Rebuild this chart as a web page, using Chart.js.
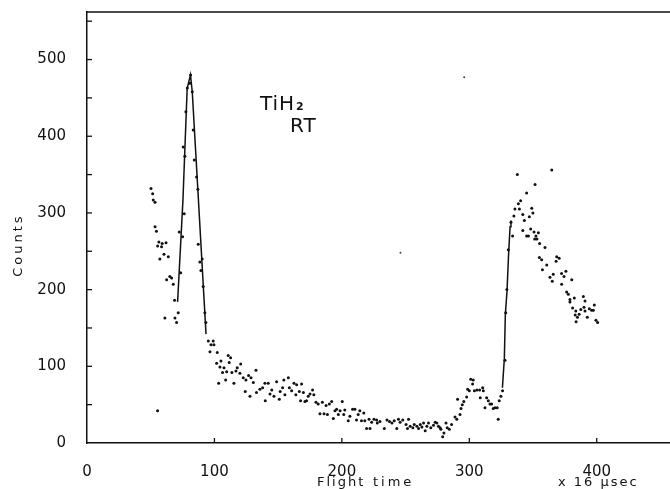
<!DOCTYPE html>
<html>
<head>
<meta charset="utf-8">
<script src="https://cdn.jsdelivr.net/npm/chart.js@4.4.0/dist/chart.umd.min.js"></script>
<style>
  html, body { margin: 0; padding: 0; background: #fff; }
  #wrap { width: 670px; height: 489px; }
</style>
</head>
<body>
<div id="wrap"><canvas id="chart" width="670" height="489"></canvas></div>
<script>
// measured counts per channel (flight time in units of 16 usec)
var countsX = [
  50.2, 51.5, 52.0, 53.4, 53.4, 54.5, 55.4, 55.4, 56.4, 57.2, 58.5, 59.0, 60.4, 61.1, 62.0, 62.5,
  63.8, 65.0, 66.4, 67.7, 68.7, 69.0, 70.3, 71.6,
  72.4, 73.5, 75.0, 76.3, 75.5, 76.8, 77.6, 78.7, 80.8, 81.3, 82.6, 83.4, 84.2, 86.0, 87.0,
  87.3, 88.6, 89.4, 90.4, 91.2, 92.5, 93.3,
  95.2, 96.5, 97.3, 99.0, 99.6, 101.7, 102.2, 103.3, 104.3, 105.1, 106.4, 107.5, 108.8, 109.6,
  110.8, 111.6, 112.7, 113.7, 115.3, 116.9, 117.9, 120.0, 120.6, 122.6, 124.2, 124.7, 126.8,
  127.9, 128.7, 130.5, 132.6, 133.0, 135.7, 137.8, 139.6, 139.9, 142.2, 143.6,
  145.0, 146.7, 148.8, 150.9, 151.6, 153.5, 154.5, 155.3, 158.0, 158.8, 160.6, 162.4, 163.9,
  164.5, 166.6, 167.6, 168.4, 169.8, 171.0, 172.3, 173.6, 175.0, 177.0, 178.0, 179.7, 181.4,
  182.8, 184.7, 186.0, 187.6, 188.7, 190.2, 192.0, 193.3, 194.6, 195.9, 197.2, 198.6, 200.3,
  201.5, 202.3, 205.0, 206.3, 208.4, 210.2, 211.5, 212.8, 214.1, 215.4, 217.2, 218.0, 219.4,
  221.3, 222.1, 223.4, 225.2, 227.3, 227.8, 229.9, 233.3, 235.4, 237.4, 239.3, 241.1, 243.1,
  244.4, 245.7, 247.8, 250.4, 251.5, 252.3, 253.6, 255.7, 256.8, 258.9, 260.2, 261.5, 262.8,
  264.1, 265.4, 266.7, 268.0, 269.8, 271.9, 273.2, 274.5, 275.8, 277.1, 277.7, 279.1, 280.1,
  281.7, 282.7, 284.3, 286.1, 288.8, 290.2, 290.8, 292.7, 293.5, 294.5, 295.7, 297.9, 298.7,
  300.0, 301.1, 302.6, 303.1, 304.0, 306.0, 308.1, 308.6, 310.5, 311.0, 312.3, 313.6, 314.9,
  316.2, 317.5, 318.8, 320.1, 321.9, 322.7, 323.5, 324.8, 326.1,
  328.0, 328.6, 329.5, 330.6, 332.7,
  334.0, 335.0, 335.8, 337.7, 338.5, 339.3, 340.3, 342.0, 342.0, 343.2, 345.0, 345.0, 346.4,
  347.1, 348.2, 349.0, 349.9, 350.8, 351.3, 351.6, 352.3, 353.1, 354.2, 355.0, 355.2, 356.8,
  357.4, 359.4, 360.8, 363.3, 364.7, 365.1, 365.9, 368.1, 368.6, 370.5, 372.4, 372.5, 374.3,
  375.8, 376.4, 377.7, 379.0, 379.0, 380.4, 381.1, 382.4, 383.1, 383.6, 383.8, 384.9, 386.2,
  387.5, 389.5, 390.0, 390.8, 390.8, 392.6, 394.2, 396.0, 397.3, 398.1, 399.4, 400.7
];
var countsY = [
  332, 325, 317, 314, 282, 276, 42, 257, 262, 240, 256, 260, 246, 163, 261, 213,
  243, 217, 215, 207, 186, 163, 157, 170,
  275, 222, 269, 299, 386, 374, 432, 463, 469, 480, 458, 408, 369, 347, 331,
  259, 236, 225, 240, 204, 170, 157,
  133, 119, 128, 133, 128, 104, 118, 78, 99, 107, 92, 98, 82, 93,
  114, 105, 111, 92, 78, 94, 98, 91, 103, 85, 67, 82, 88,
  61, 85, 79, 95, 66, 70, 72, 78, 55, 78, 64,
  69, 61, 80, 57, 67, 72, 82, 63, 85, 72, 68, 78, 63,
  76, 67, 55, 77, 66, 54, 55, 61, 64, 69, 63, 53, 51,
  38, 53, 38, 49, 37, 51, 54, 32, 42, 44, 37, 42, 54,
  37, 43, 29, 35, 44, 44, 30, 37, 42, 29, 39, 29, 19,
  31, 19, 27, 31, 30, 26, 28, 19, 30, 28, 26, 29, 19,
  31, 27, 30, 24, 19, 31, 22, 20, 24, 22, 19, 24, 21,
  26, 16, 22, 26, 20, 23, 27, 26, 22, 20, 18, 8, 13,
  26, 20, 18, 24, 34, 31, 57, 37, 45, 50, 54, 60, 70,
  68, 83, 77, 82, 68, 69, 69, 59, 72, 68, 46, 59, 55,
  51, 51, 45, 46, 46, 31, 55, 61, 68,
  108, 170, 200, 252, 288,
  270, 296, 305, 350, 312, 305, 316, 298, 277, 290, 326, 270, 270,
  295, 279, 306, 300, 275, 266, 337, 270, 266, 274, 242, 260, 239,
  226, 255, 232, 216, 356, 211, 220, 237, 243, 241, 221, 207, 217,
  224, 197, 194, 187, 184, 213, 176, 189, 167, 172, 158, 164, 168,
  174, 191, 177, 185, 172, 164, 175, 173, 173, 180, 160, 157
];

// hand-drawn curves through the two peaks
var fitLeftX = [71.1, 75.3, 78.6, 81.2, 82.6, 87.0, 93.4];
var fitLeftY = [184, 317, 462, 480, 458, 330, 142];
var fitRightX = [326.0, 327.5, 328.3, 329.6, 330.8, 332.0, 332.7];
var fitRightY = [72, 110, 168, 198, 245, 282, 290];

// specks on the original print
var speckX = [296, 246];
var speckY = [477, 248];

var xTickLabels = ["0", "100", "200", "300", "400"];
var yTickLabels = ["0", "100", "200", "300", "400", "500"];
var yMarkValues = [50, 100, 150, 200, 250, 300, 350, 400, 450, 500, 550];
var xMarkValues = [100, 200, 300, 400];

function pairs(xs, ys) {
  return xs.map(function (x, i) { return { x: x, y: ys[i] }; });
}

var ink = "#111";
var font = "'DejaVu Sans', sans-serif";

var paperText = {
  id: "paperText",
  afterDraw: function (chart) {
    var ctx = chart.ctx;
    var xs = chart.scales.x;
    var ys = chart.scales.y;
    var area = chart.chartArea;
    ctx.save();
    ctx.strokeStyle = ink;
    ctx.fillStyle = ink;

    // top frame line
    ctx.lineWidth = 1.5;
    ctx.beginPath();
    ctx.moveTo(area.left, area.top);
    ctx.lineTo(chart.width, area.top);
    ctx.stroke();

    // tick marks point into the plot
    ctx.lineWidth = 1.3;
    yMarkValues.forEach(function (v) {
      var py = ys.getPixelForValue(v);
      ctx.beginPath();
      ctx.moveTo(xs.left, py);
      ctx.lineTo(xs.left + 5, py);
      ctx.stroke();
    });
    xMarkValues.forEach(function (v) {
      var px = xs.getPixelForValue(v);
      ctx.beginPath();
      ctx.moveTo(px, ys.bottom);
      ctx.lineTo(px, ys.bottom - 5);
      ctx.stroke();
    });

    // axis titles
    ctx.textBaseline = "alphabetic";
    ctx.textAlign = "left";
    ctx.font = "13px " + font;
    ctx.letterSpacing = "2px";
    ctx.fillText("Flight", xs.getPixelForValue(180.5), 486);
    ctx.letterSpacing = "3px";
    ctx.fillText("time", xs.getPixelForValue(224.4), 486);
    ctx.letterSpacing = "2px";
    ctx.fillText("x 16 \u03bcsec", xs.getPixelForValue(369.6), 486);

    ctx.save();
    ctx.translate(22, ys.getPixelForValue(258));
    ctx.rotate(-Math.PI / 2);
    ctx.textAlign = "center";
    ctx.letterSpacing = "3px";
    ctx.fillText("Counts", 0, 0);
    ctx.restore();

    // sample label
    ctx.letterSpacing = "1px";
    ctx.font = "20px " + font;
    var lx = xs.getPixelForValue(135.7);
    var ly = ys.getPixelForValue(434);
    ctx.fillText("TiH", lx, ly);
    var w = ctx.measureText("TiH").width;
    ctx.font = "bold 11px " + font;
    ctx.fillText("2", lx + w + 1, ly);
    ctx.font = "20px " + font;
    ctx.fillText("RT", xs.getPixelForValue(159.3), ys.getPixelForValue(405));
    ctx.restore();
  }
};

new Chart(document.getElementById("chart"), {
  type: "scatter",
  data: {
    datasets: [
      {
        label: "Counts",
        data: pairs(countsX, countsY),
        showLine: false,
        pointRadius: 1.5,
        pointBackgroundColor: ink,
        pointBorderWidth: 0,
      },
      {
        label: "fit left",
        data: pairs(fitLeftX, fitLeftY),
        showLine: true,
        borderColor: ink,
        borderWidth: 1.5,
        pointRadius: 0,
        tension: 0,
      },
      {
        label: "fit right",
        data: pairs(fitRightX, fitRightY),
        showLine: true,
        borderColor: ink,
        borderWidth: 1.5,
        pointRadius: 0,
        tension: 0,
      },
      {
        label: "specks",
        data: pairs(speckX, speckY),
        showLine: false,
        pointRadius: 1,
        pointBackgroundColor: "#444",
        pointBorderWidth: 0,
      },
    ],
  },
  options: {
    responsive: false,
    animation: false,
    layout: { autoPadding: false, padding: { top: 12, right: 0, left: 0, bottom: 0 } },
    plugins: {
      legend: { display: false },
      tooltip: { enabled: false },
    },
    scales: {
      x: {
        type: "linear",
        position: "bottom",
        min: 0,
        max: 457.5,
        grid: { display: false },
        border: { display: true, color: ink, width: 1.5 },
        ticks: {
          stepSize: 100,
          includeBounds: false,
          maxRotation: 0,
          padding: 12,
          color: ink,
          font: { family: font, size: 15 },
          callback: function (v) { return xTickLabels[v / 100]; },
        },
        afterFit: function (s) {
          s.height = 46;
          s.paddingLeft = 0;
          s.paddingRight = 0;
        },
      },
      y: {
        min: 0,
        max: 562,
        grid: { display: false },
        border: { display: true, color: ink, width: 1.5 },
        ticks: {
          stepSize: 100,
          includeBounds: false,
          padding: 13,
          color: ink,
          font: { family: font, size: 15 },
          callback: function (v) { return yTickLabels[v / 100]; },
        },
        afterFit: function (s) {
          s.width = 87;
          s.paddingTop = 0;
          s.paddingBottom = 0;
        },
      },
    },
  },
  plugins: [paperText],
});
</script>
</body>
</html>
